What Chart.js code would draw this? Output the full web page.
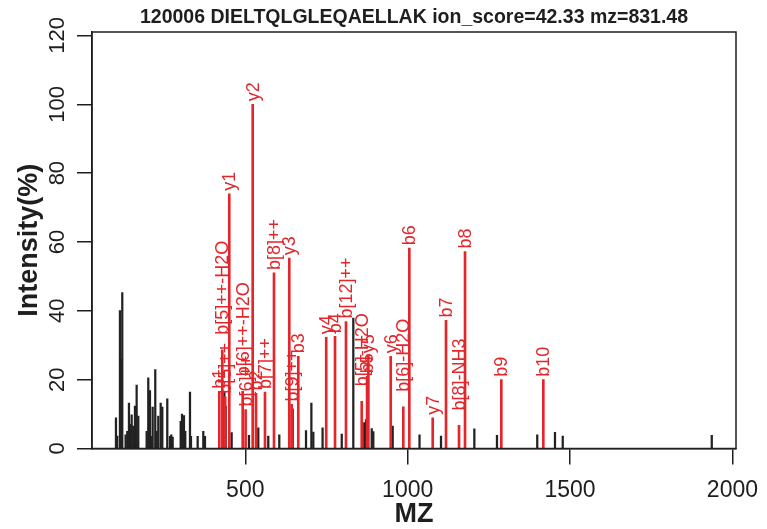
<!DOCTYPE html>
<html>
<head>
<meta charset="utf-8">
<script src="https://cdn.jsdelivr.net/npm/chart.js@4/dist/chart.umd.min.js"></script>
<style>
  html, body { margin: 0; padding: 0; background: #fff; }
  canvas { display: block; }
</style>
</head>
<body>
<canvas id="spectrum" width="767" height="529"></canvas>
<script>
const chartTitle = '120006 DIELTQLGLEQAELLAK ion_score=42.33 mz=831.48';

// unassigned peaks (black)
const otherMz = [
  101.8, 105.8, 114.1, 117.2, 121.2, 131.5, 136.6, 141.8, 145.8, 150.1,
  155.1, 160.3, 165.5, 170.5, 196.3, 201.3, 206.5, 211.7, 214.8, 222.8,
  227.1, 232.1, 239.5, 244.4, 259.8, 268.1, 272.1, 276.4, 301.1, 305.1,
  311.2, 315.2, 329.7, 332.8, 353.4, 370.7, 375.9, 435.5, 439.6, 458.0,
  511.4, 540.0, 570.8, 604.7, 645.9, 687.0, 703.5, 709.5, 738.0, 797.0,
  832.6, 866.5, 871.7, 889.3, 894.2, 953.9, 1036.5, 1102.7, 1205.3, 1275.0,
  1399.0, 1453.6, 1477.5, 1936.4
];
const otherIntensity = [
  8.9, 3.6, 40.1, 26.0, 45.3, 4.0, 5.0, 13.2, 7.0, 9.8,
  6.5, 12.3, 18.4, 9.4, 5.0, 20.5, 16.8, 3.5, 12.0, 22.9,
  5.0, 9.4, 13.2, 12.0, 14.4, 3.5, 4.0, 3.3, 7.9, 10.0,
  9.6, 5.0, 16.4, 3.5, 3.5, 5.0, 3.5, 16.5, 12.3, 4.6,
  3.8, 6.0, 3.6, 4.0, 11.5, 5.2, 13.2, 4.8, 6.0, 4.2,
  37.9, 7.5, 8.4, 5.8, 4.9, 6.5, 4.0, 3.6, 5.7, 3.8,
  4.0, 4.7, 3.6, 3.8
];

// matched fragment ions (red)
const ionLabels = [
  'b1', 'b[5]++-H2O', 'b[5]++', 'y1', 'b[6]++-H2O', 'b[6]++', 'y2', 'b2', 'b[7]++', 'b[8]++',
  'y3', 'b[9]++', 'b3', 'y4', 'b4', 'b[12]++', 'b[5]-H2O', 'b5', 'y5', 'y6',
  'b[6]-H2O', 'b6', 'y7', 'b7', 'b[8]-NH3', 'b8', 'b9', 'b10'
];
const ionMz = [
  419.9, 429.2, 438.1, 450.7, 492.0, 501.0, 522.8, 533.0, 560.7, 588.4,
  635.5, 642.8, 663.2, 749.2, 776.3, 810.1, 858.5, 875.0, 879.0, 947.8,
  986.6, 1005.1, 1077.1, 1118.1, 1158.1, 1176.6, 1288.4, 1417.7
];
const ionIntensity = [
  16.5, 28.7, 15.0, 74.0, 16.6, 11.3, 100.0, 16.0, 16.4, 51.0,
  55.3, 12.8, 26.8, 32.3, 32.6, 36.9, 13.7, 21.0, 26.8, 26.8,
  12.1, 58.2, 8.9, 37.2, 6.7, 57.2, 20.0, 20.0
];

const xTicks = [500, 1000, 1500, 2000];
const yTicks = [0, 20, 40, 60, 80, 100, 120];

const fontFamily = '"Liberation Sans", Arial, Helvetica, sans-serif';
const axisColor = '#1e1e1e';
const ionColor = '#e3262b';
const peakColor = '#222222';

// rotated ion labels above the red peaks
const ionLabelPlugin = {
  id: 'ionLabels',
  afterDatasetsDraw(chart) {
    const { ctx, scales: { x, y } } = chart;
    ctx.save();
    ctx.fillStyle = ionColor;
    ctx.font = '18px ' + fontFamily;
    ctx.textAlign = 'left';
    ctx.textBaseline = 'middle';
    ionLabels.forEach((lab, i) => {
      const px = x.getPixelForValue(ionMz[i]);
      const gap = lab.includes('-') ? 15 : 3;
      const py = y.getPixelForValue(ionIntensity[i]) - gap;
      ctx.save();
      ctx.translate(px + 1, py);
      ctx.rotate(-Math.PI / 2);
      ctx.fillText(lab, 0, 0);
      ctx.restore();
    });
    ctx.restore();
  }
};

// box around the plot, vertical y tick labels and y title (R style)
const framePlugin = {
  id: 'frame',
  afterDraw(chart) {
    const { ctx, chartArea: a, scales: { y } } = chart;
    ctx.save();
    ctx.strokeStyle = axisColor;
    ctx.lineWidth = 1.5;
    ctx.strokeRect(a.left, a.top, a.right - a.left, a.bottom - a.top);

    ctx.fillStyle = axisColor;
    ctx.textAlign = 'center';
    ctx.textBaseline = 'middle';
    ctx.font = '22px ' + fontFamily;
    y.ticks.forEach(t => {
      ctx.save();
      ctx.translate(a.left - 34, y.getPixelForValue(t.value));
      ctx.rotate(-Math.PI / 2);
      ctx.fillText(String(t.value), 0, 0);
      ctx.restore();
    });

    ctx.font = 'bold 27px ' + fontFamily;
    ctx.save();
    ctx.translate(a.left - 62, (a.top + a.bottom) / 2);
    ctx.rotate(-Math.PI / 2);
    ctx.fillText('Intensity(%)', 0, 0);
    ctx.restore();
    ctx.restore();
  }
};

new Chart(document.getElementById('spectrum'), {
  type: 'bar',
  data: {
    datasets: [
      {
        label: 'matched',
        data: ionMz.map((m, i) => ({ x: m, y: ionIntensity[i] })),
        backgroundColor: ionColor,
        barThickness: 2
      },
      {
        label: 'other',
        data: otherMz.map((m, i) => ({ x: m, y: otherIntensity[i] })),
        backgroundColor: peakColor,
        barThickness: 1.6
      }
    ]
  },
  options: {
    responsive: false,
    animation: false,
    devicePixelRatio: 1,
    layout: { padding: { left: 77, right: 31, top: 0, bottom: 0 } },
    datasets: {
      bar: { grouped: false, borderWidth: 0 }
    },
    plugins: {
      legend: { display: false },
      tooltip: { enabled: false },
      title: {
        display: true,
        text: chartTitle,
        fullSize: false,
        color: axisColor,
        font: { family: fontFamily, size: 19.5, weight: 'bold', lineHeight: 1.2 },
        padding: { top: 6, bottom: 2.6 }
      }
    },
    scales: {
      x: {
        type: 'linear',
        min: 28,
        max: 2011,
        offset: false,
        afterBuildTicks: s => { s.ticks = xTicks.map(v => ({ value: v })); },
        afterFit: s => { s.height = 80.5; s.paddingLeft = 0; s.paddingRight = 0; },
        grid: { offset: false, drawOnChartArea: false, drawTicks: true, tickLength: 16, color: axisColor, lineWidth: 1.5 },
        border: { display: true, color: axisColor, width: 1.5 },
        ticks: {
          color: axisColor,
          font: { family: fontFamily, size: 23 },
          padding: 12,
          maxRotation: 0,
          autoSkip: false,
          callback: v => String(v)
        },
        title: {
          display: true,
          text: 'MZ',
          color: axisColor,
          font: { family: fontFamily, size: 27, weight: 'bold', lineHeight: 1 },
          padding: { top: 0, bottom: 1 }
        }
      },
      y: {
        min: 0,
        max: 121,
        afterBuildTicks: s => { s.ticks = yTicks.map(v => ({ value: v })); },
        afterFit: s => { s.width = 15; },
        grid: { drawOnChartArea: false, drawTicks: true, tickLength: 15, color: axisColor, lineWidth: 1.5 },
        border: { display: true, color: axisColor, width: 1.5 },
        ticks: { display: false }
      }
    }
  },
  plugins: [ionLabelPlugin, framePlugin]
});
</script>
</body>
</html>
